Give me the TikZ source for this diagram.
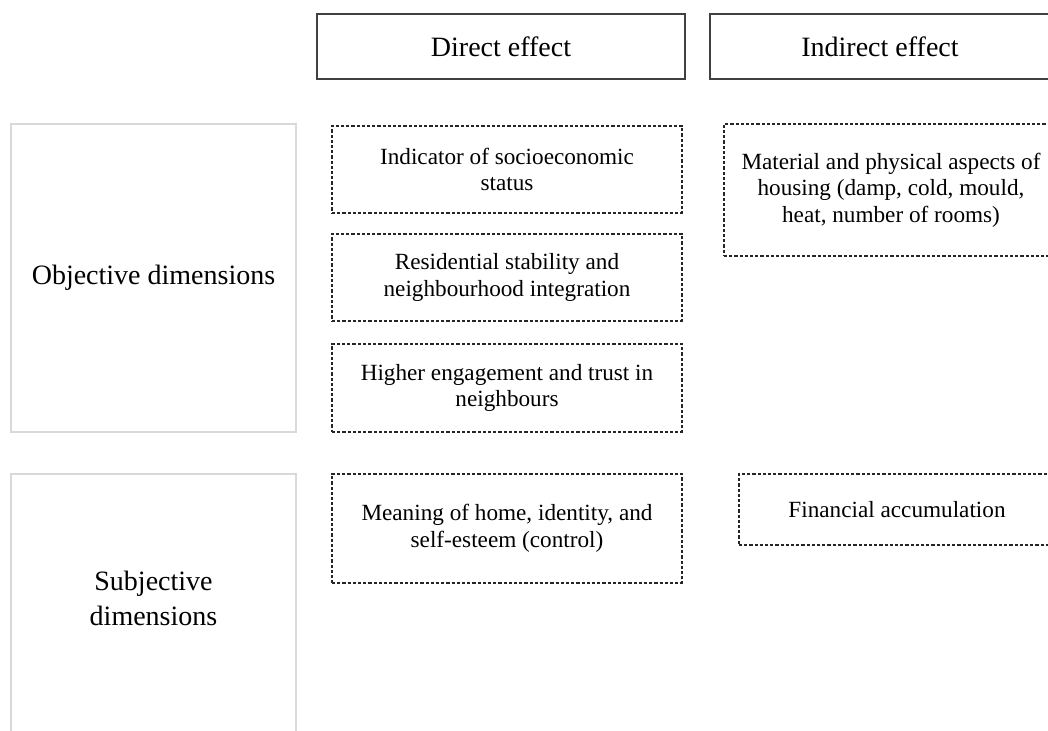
\documentclass[tikz,border=0pt]{standalone}
\usepackage{fontspec}
\setmainfont{Liberation Serif}
\tikzset{%
  frame/.style = {
    x=0.5pt, y=-0.5pt,
    every node/.style = {align=center, inner sep=0pt,
      font=\fontsize{11.6}{13.2}\selectfont}
  },
  bigtext/.style = {font=\fontsize{14}{17.5}\selectfont},
  headbox/.style = {bigtext, draw=black!75, line width=0.7pt,
    minimum width=184pt, minimum height=32.5pt},
  dimbox/.style = {draw=black!15, line width=0.8pt},
  effbox/.style = {draw=black!85, line width=0.75pt,
    dash pattern=on 1.6pt off 1pt, minimum width=175pt}
}

\begin{document}
\begin{tikzpicture}[frame]
  \useasboundingbox (0,0) rectangle (1048,731);
  \clip (0,0) rectangle (1048,731);
  % column heads
  \node[headbox] (direct) at (501,46.5) {Direct effect};
  \node[headbox, minimum width=170pt] (indirect) at (880,46.5) {Indirect effect};
  % row heads
  \node[dimbox, bigtext, minimum width=142.5pt, minimum height=154pt]
    (objective) at (153.5,278) {Objective dimensions};
  \draw[dimbox] (11,474) rectangle (296,790);
  \node[bigtext] (subjective) at (153.5,598) {Subjective\\dimensions};
  % direct effects
  \node[effbox, minimum height=43.5pt] (socio) at (507,169.5)
    {Indicator of socioeconomic\\status};
  \node[effbox, minimum height=43.5pt] (stab) at (507,277.5)
    {Residential stability and\\neighbourhood integration};
  \node[effbox, minimum height=44pt] (trust) at (507,388)
    {Higher engagement and trust in\\neighbours};
  \node[effbox, minimum height=54.5pt] (home) at (507,528.5)
    {Meaning of home, identity, and\\self-esteem (control)};
  % indirect effects
  \node[effbox, minimum width=167pt, minimum height=66pt] (material) at (891,190)
    {Material and physical aspects of\\housing (damp, cold, mould,\\heat, number of rooms)};
  \node[effbox, minimum width=158pt, minimum height=35.5pt] (finance) at (897,509.5)
    {Financial accumulation};
\end{tikzpicture}
\end{document}
